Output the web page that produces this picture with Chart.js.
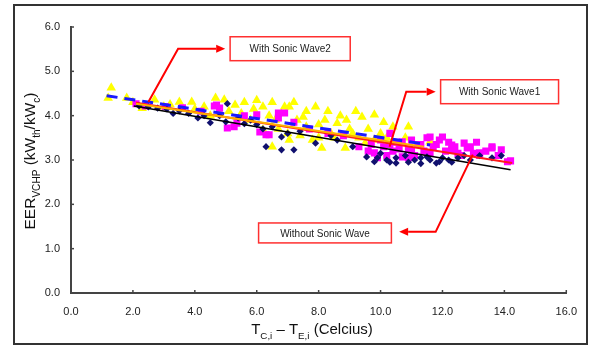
<!DOCTYPE html>
<html>
<head>
<meta charset="utf-8">
<script src="https://cdn.jsdelivr.net/npm/chart.js@4/dist/chart.umd.min.js"></script>
<style>
  body { margin: 0; background: #fff; }
  canvas { display: block; }
</style>
</head>
<body>
<canvas id="chart" width="589" height="347"></canvas>
<script>
// tick values
const xTicks = [0, 2, 4, 6, 8, 10, 12, 14, 16];
const yTicks = [0, 1, 2, 3, 4, 5, 6];

const withoutSonic = [
  [2.2,4.22],[2.5,4.2],[2.8,4.17],[3.1,4.15],[3.3,4.05],[3.5,4.11],[3.8,4.05],[4.1,3.95],[4.3,4.0],
  [4.5,3.84],[4.8,4.0],[5.0,3.86],[5.05,4.27],[5.4,3.95],[5.6,3.82],[5.8,3.9],[6.0,3.8],[6.2,3.7],
  [6.3,3.3],[6.5,3.75],[6.8,3.52],[6.8,3.23],[7.0,3.6],[7.2,3.23],[7.4,3.65],[7.9,3.38],[8.4,3.55],
  [8.6,3.45],[9.1,3.3],[9.55,3.07],[9.8,2.96],[9.9,3.05],[10.0,3.15],[10.2,3.0],[10.3,2.95],[10.5,3.05],
  [10.5,2.93],[10.8,3.1],[10.9,2.95],[11.1,3.0],[11.3,3.05],[11.3,2.92],[11.5,3.07],[11.6,3.0],[11.8,2.93],
  [11.9,2.96],[12.0,3.05],[12.2,3.0],[12.3,2.95],[12.5,3.05],[12.7,3.1],[12.9,3.0],[13.2,3.1],
  [13.6,3.05],[13.9,3.1]
];
const sonicWave1 = [
  [2.1,4.27],[2.4,4.22],[3.05,4.2],[3.6,4.18],[4.2,4.1],[4.63,4.22],[4.7,4.24],[4.8,4.17],
  [5.05,3.72],[5.27,3.75],[5.36,3.83],[5.6,4.0],[6.0,4.02],[6.1,3.63],[6.3,3.57],[6.4,3.57],
  [6.7,3.95],[6.7,4.06],[6.9,4.06],[7.2,3.85],[7.7,3.7],[8.3,3.6],[8.8,3.55],[9.3,3.3],
  [9.6,3.2],[9.7,3.35],[9.8,3.16],[9.9,3.05],[10.0,3.45],[10.1,3.3],[10.2,3.1],[10.3,3.6],[10.3,3.35],
  [10.4,3.2],[10.5,3.4],[10.6,3.25],[10.7,3.07],[10.7,3.41],[10.9,3.25],[10.9,3.05],[11.0,3.45],
  [11.0,3.2],[11.1,3.1],[11.2,3.35],[11.3,3.35],[11.4,3.2],[11.5,3.5],[11.6,3.52],[11.6,3.15],
  [11.7,3.3],[11.8,3.35],[11.9,3.45],[12.0,3.52],[12.1,3.2],[12.2,3.4],[12.3,3.23],[12.3,3.34],
  [12.4,3.3],[12.5,3.15],[12.6,3.1],[12.7,3.38],[12.8,3.27],[12.9,3.3],[13.0,3.15],[13.1,3.4],
  [13.2,3.1],[13.2,3.16],[13.4,3.2],[13.6,3.27],[13.6,3.3],[13.8,3.1],[13.9,3.23],[14.1,2.96],[14.2,2.98]
];
const sonicWave2 = [
  [1.2,4.4],[1.3,4.63],[1.8,4.4],[2.0,4.3],[2.3,4.17],[2.7,4.36],[3.0,4.2],[3.2,4.25],[3.5,4.31],
  [3.9,4.31],[4.0,4.15],[4.3,4.2],[4.5,4.0],[4.67,4.4],[4.8,4.05],[4.95,4.36],[5.1,4.1],[5.3,4.24],
  [5.5,4.05],[5.6,4.3],[5.8,3.9],[5.9,4.15],[6.0,4.35],[6.2,4.2],[6.2,3.68],[6.4,4.0],[6.5,3.3],
  [6.5,4.3],[6.6,3.9],[6.7,3.7],[6.9,4.2],[7.0,3.6],[7.05,4.2],[7.05,3.45],[7.2,4.3],[7.3,3.9],
  [7.4,3.55],[7.5,3.97],[7.6,3.75],[7.6,4.1],[7.8,3.45],[7.9,4.2],[8.0,3.8],[8.0,3.5],[8.1,3.27],
  [8.2,3.9],[8.3,4.1],[8.4,3.6],[8.5,3.5],[8.6,3.83],[8.7,4.0],[8.86,3.27],[8.9,3.9],[9.0,3.7],
  [9.1,3.6],[9.2,4.1],[9.3,3.5],[9.4,3.97],[9.5,3.38],[9.6,3.7],[9.8,4.02],[9.8,3.45],[10.0,3.6],
  [10.1,3.85],[10.2,3.5],[10.4,3.75],[10.8,3.5],[10.9,3.75],[11.6,3.41]
];

// trend line end points
const trendWithout = [[2.03,4.22],[14.2,2.78]];
const trendWave1 = [[2.1,4.29],[14.25,2.93]];
const trendWave2 = [[2.1,4.27],[11.4,3.3]];
const trendDashed = [[1.15,4.45],[11.6,3.34]];

// callout boxes: label, box corners (x1,y1,x2,y2), arrow path
const callouts = [
  { text: 'With Sonic Wave2', box: [5.14,5.78,9.02,5.24], path: [[2.5,4.31],[3.46,5.51],[4.98,5.51]] },
  { text: 'With Sonic Wave1', box: [11.94,4.81,15.75,4.27], path: [[10.29,3.3],[10.83,4.54],[11.78,4.54]] },
  { text: 'Without Sonic Wave', box: [6.06,1.58,10.35,1.13], path: [[12.98,3.12],[11.78,1.38],[10.6,1.38]] }
];

const toXY = arr => arr.map(p => ({ x: p[0], y: p[1] }));

function subText(ctx, parts, x, y, size) {
  // parts: [text, isSub]
  let cx = x;
  parts.forEach(([t, sub]) => {
    ctx.font = (sub ? size * 0.65 : size) + 'px Arial, "Liberation Sans"';
    ctx.fillText(t, cx, y + (sub ? size * 0.3 : 0));
    cx += ctx.measureText(t).width;
  });
  return cx - x;
}
function measureParts(ctx, parts, size) {
  let w = 0;
  parts.forEach(([t, sub]) => {
    ctx.font = (sub ? size * 0.65 : size) + 'px Arial, "Liberation Sans"';
    w += ctx.measureText(t).width;
  });
  return w;
}

const extras = {
  id: 'extras',
  beforeDraw(chart) {
    const ctx = chart.ctx;
    ctx.save();
    ctx.fillStyle = '#fff';
    ctx.fillRect(0, 0, chart.width, chart.height);
    ctx.strokeStyle = '#333';
    ctx.lineWidth = 2;
    ctx.strokeRect(14, 5, 573, 339);
    ctx.restore();
  },
  afterDraw(chart) {
    const ctx = chart.ctx;
    const xs = chart.scales.x, ys = chart.scales.y;
    const a = chart.chartArea;
    ctx.save();
    // inward ticks
    ctx.strokeStyle = '#444';
    ctx.lineWidth = 1.5;
    xTicks.forEach(v => {
      const px = xs.getPixelForValue(v);
      ctx.beginPath(); ctx.moveTo(px, a.bottom); ctx.lineTo(px, a.bottom - 3); ctx.stroke();
    });
    yTicks.forEach(v => {
      const py = ys.getPixelForValue(v);
      ctx.beginPath(); ctx.moveTo(a.left, py); ctx.lineTo(a.left + 3, py); ctx.stroke();
    });

    // axis titles
    ctx.fillStyle = '#111';
    ctx.textBaseline = 'alphabetic';
    ctx.textAlign = 'left';
    const xParts = [['T', false], ['C,i', true], [' \u2013 T', false], ['E,i', true], [' (Celcius)', false]];
    const xw = measureParts(ctx, xParts, 15);
    subText(ctx, xParts, 312 - xw / 2, 334, 15);

    const yParts = [['EER', false], ['VCHP', true], [' (kW', false], ['th', true], ['/kW', false], ['c', true], [')', false]];
    const yw = measureParts(ctx, yParts, 15.5);
    ctx.save();
    ctx.translate(35, 161);
    ctx.rotate(-Math.PI / 2);
    subText(ctx, yParts, -yw / 2, 0, 15.5);
    ctx.restore();

    // callouts
    callouts.forEach(c => {
      const x1 = xs.getPixelForValue(c.box[0]), y1 = ys.getPixelForValue(c.box[1]);
      const x2 = xs.getPixelForValue(c.box[2]), y2 = ys.getPixelForValue(c.box[3]);
      ctx.fillStyle = '#fff';
      ctx.fillRect(x1, y1, x2 - x1, y2 - y1);
      ctx.strokeStyle = '#ff3030';
      ctx.lineWidth = 1.5;
      ctx.strokeRect(x1, y1, x2 - x1, y2 - y1);
      ctx.fillStyle = '#222';
      ctx.font = '10px Arial, "Liberation Sans"';
      ctx.textAlign = 'center';
      ctx.textBaseline = 'middle';
      ctx.fillText(c.text, (x1 + x2) / 2, (y1 + y2) / 2 + 1);

      const pts = c.path.map(p => [xs.getPixelForValue(p[0]), ys.getPixelForValue(p[1])]);
      const n = pts.length;
      const [ex, ey] = pts[n - 1];
      const [px, py] = pts[n - 2];
      const ang = Math.atan2(ey - py, ex - px);
      const head = 9;
      ctx.strokeStyle = '#ff0000';
      ctx.lineWidth = 2;
      ctx.beginPath();
      ctx.moveTo(pts[0][0], pts[0][1]);
      for (let i = 1; i < n - 1; i++) ctx.lineTo(pts[i][0], pts[i][1]);
      ctx.lineTo(ex - head * Math.cos(ang), ey - head * Math.sin(ang));
      ctx.stroke();
      ctx.fillStyle = '#ff0000';
      ctx.beginPath();
      ctx.moveTo(ex, ey);
      ctx.lineTo(ex - head * Math.cos(ang) + 4 * Math.sin(ang), ey - head * Math.sin(ang) - 4 * Math.cos(ang));
      ctx.lineTo(ex - head * Math.cos(ang) - 4 * Math.sin(ang), ey - head * Math.sin(ang) + 4 * Math.cos(ang));
      ctx.closePath();
      ctx.fill();
    });
    ctx.restore();
  }
};

const lineDs = (label, pts, color, width, dash) => ({
  type: 'line', label, data: toXY(pts), borderColor: color, borderWidth: width,
  borderDash: dash || [], pointRadius: 0, fill: false, showLine: true
});

new Chart(document.getElementById('chart'), {
  type: 'scatter',
  data: {
    datasets: [
      lineDs('Trend dashed', trendDashed, '#1a1aff', 3, [11, 7]),
      lineDs('Trend Wave2', trendWave2, '#ffb000', 2),
      lineDs('Trend Wave1', trendWave1, '#ff1a1a', 2),
      lineDs('Trend Without', trendWithout, '#000', 1.5),
      { label: 'Without Sonic Wave', data: toXY(withoutSonic), pointStyle: 'rectRot', pointRadius: 3.6,
        backgroundColor: '#10106e', borderColor: '#10106e', borderWidth: 0 },
      { label: 'With Sonic Wave1', data: toXY(sonicWave1), pointStyle: 'rect', pointRadius: 5,
        backgroundColor: '#ff00ff', borderColor: '#ff00ff', borderWidth: 0 },
      { label: 'With Sonic Wave2', data: toXY(sonicWave2), pointStyle: 'triangle', pointRadius: 5.5,
        backgroundColor: '#ffff00', borderColor: '#ffff00', borderWidth: 0 }
    ]
  },
  options: {
    responsive: false,
    animation: false,
    layout: { padding: { left: 0, right: 14, top: 27, bottom: 0 } },
    plugins: { legend: { display: false }, tooltip: { enabled: false } },
    scales: {
      x: {
        type: 'linear', min: 0, max: 16,
        afterFit: s => { s.height = 54; },
        afterBuildTicks: s => { s.ticks = xTicks.map(v => ({ value: v })); },
        border: { display: true, color: '#444', width: 2 },
        grid: { drawOnChartArea: false, drawTicks: false },
        ticks: { padding: 12, color: '#222', font: { family: 'Arial, "Liberation Sans"', size: 11 },
                 callback: v => v.toFixed(1), maxRotation: 0 }
      },
      y: {
        type: 'linear', min: 0, max: 6,
        afterFit: s => { s.width = 71; },
        afterBuildTicks: s => { s.ticks = yTicks.map(v => ({ value: v })); },
        border: { display: true, color: '#444', width: 2 },
        grid: { drawOnChartArea: false, drawTicks: false },
        ticks: { padding: 11, color: '#222', font: { family: 'Arial, "Liberation Sans"', size: 11 },
                 callback: v => v.toFixed(1) }
      }
    }
  },
  plugins: [extras]
});
</script>
</body>
</html>
